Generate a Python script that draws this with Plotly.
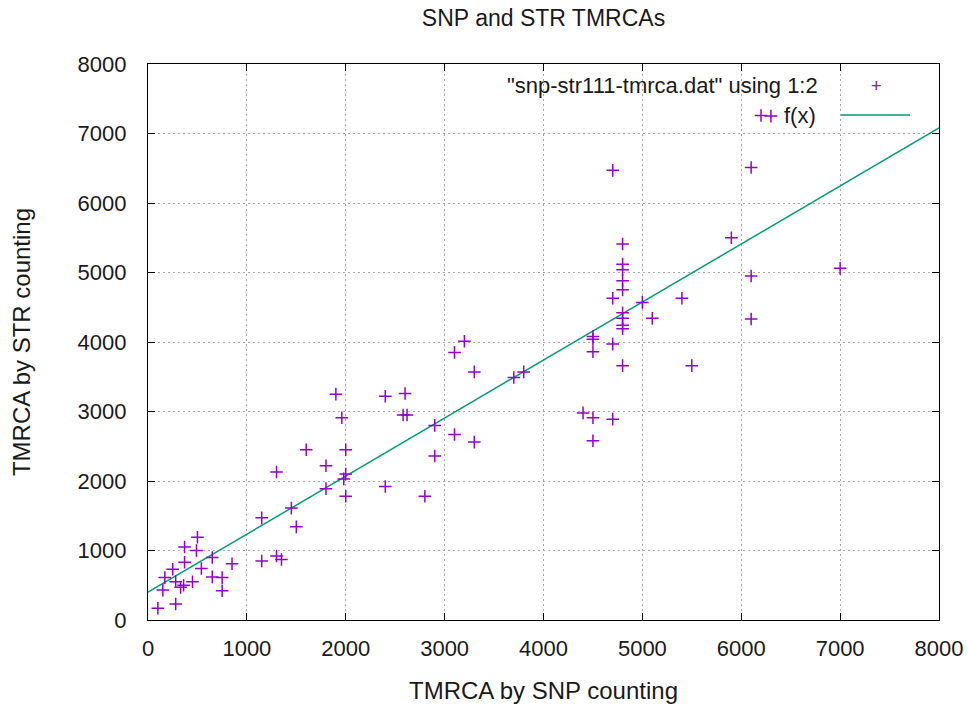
import plotly.graph_objects as go

# SNP-based TMRCA (x) and STR-based TMRCA (y)
snp_tmrca = [100, 280, 150, 170, 250, 280, 330, 360, 450, 370, 370, 500, 490, 540, 650, 650, 750, 750, 850,
             1150, 1150, 1300, 1350, 1450, 1500,
             1300, 1600, 1800, 1800, 1900, 1960, 2000, 2000, 1980, 2000,
             2400, 2400, 2600, 2580, 2620, 2800, 2900, 2900, 3100, 3300,
             3100, 3200, 3300, 3700, 3800,
             4400, 4500, 4500, 4700,
             4500, 4500, 4500, 4700, 4700, 4700,
             4800, 4800, 4800, 4800, 4800, 4800, 4800, 4800, 4800, 4800,
             5000, 5100, 5400, 5500, 5900,
             6100, 6100, 6100, 7000, 6200, 6300]
str_tmrca = [170, 230, 430, 610, 730, 550, 470, 500, 550, 830, 1050, 1190, 1000, 740, 900, 620, 610, 420, 810,
             1470, 850, 920, 870, 1610, 1340,
             2130, 2450, 2220, 1890, 3250, 2910, 2450, 2100, 2030, 1780,
             3220, 1920, 3260, 2950, 2950, 1780, 2800, 2360, 2670, 2560,
             3850, 4010, 3570, 3490, 3570,
             2980, 2910, 2580, 2890,
             4080, 4040, 3860, 3970, 4630, 6470,
             5410, 5120, 5040, 4880, 4750, 4420, 4340, 4240, 4190, 3660,
             4570, 4340, 4630, 3660, 5500,
             6510, 4950, 4330, 5060, 7260, 7250]

# fitted line f(x) = a + b*x
fit_intercept = 400
fit_slope = 0.835
fit_x = [0, 8000]
fit_y = [fit_intercept + fit_slope * v for v in fit_x]

tick_vals = [0, 1000, 2000, 3000, 4000, 5000, 6000, 7000, 8000]
tick_text = [str(v) for v in tick_vals]

PURPLE = "#9400D3"
GREEN = "#009E73"
FONT = "Liberation Sans, Arial, sans-serif"
TXT = "#1a1a1a"

fig = go.Figure()
fig.add_trace(go.Scatter(x=fit_x, y=fit_y, mode="lines",
                         line=dict(color=GREEN, width=1.5), name="f(x)"))
fig.add_trace(go.Scatter(x=snp_tmrca, y=str_tmrca, mode="markers",
                         marker=dict(symbol="cross-thin-open", size=9,
                                     line=dict(color=PURPLE, width=1.5), color=PURPLE),
                         name='"snp-str111-tmrca.dat" using 1:2'))

axis_common = dict(
    range=[0, 8000], tickvals=tick_vals, ticktext=tick_text,
    showgrid=True, gridcolor="#a8a8a8", griddash="2px,3px", gridwidth=1,
    zeroline=False, showline=True, linecolor="black", linewidth=1.2,
    mirror="allticks", ticks="inside", ticklen=7, tickcolor="black",
    tickfont=dict(family=FONT, size=22, color=TXT),
    automargin=False, ticklabeloverflow="allow",
)

# plot area spans page x 148..939, y 64..620
fig.update_layout(
    width=968, height=704, autosize=False,
    margin=dict(l=148, r=29, t=64, b=84),
    plot_bgcolor="white", paper_bgcolor="white",
    showlegend=False,
    title=dict(text="SNP and STR TMRCAs", x=0.5, xref="paper", xanchor="center",
               y=1 - 18 / 704, yref="container", yanchor="middle",
               font=dict(family=FONT, size=23, color=TXT)),
    xaxis=dict(**axis_common, ticklabelstandoff=8,
               title=dict(text="TMRCA by SNP counting", standoff=24,
                          font=dict(family=FONT, size=24, color=TXT))),
    yaxis=dict(**axis_common, ticklabelstandoff=16,
               title=dict(text="TMRCA by STR counting", standoff=40,
                          font=dict(family=FONT, size=24, color=TXT))),
)

# gnuplot-style key (text on the left, sample on the right)
fig.add_annotation(x=(820 - 148) / 791, y=(620 - 86) / 556, xref="paper", yref="paper",
                   text='"snp-str111-tmrca.dat" using 1:2', showarrow=False,
                   xanchor="right", yanchor="middle",
                   font=dict(family=FONT, size=22, color=TXT))
fig.add_annotation(x=(876 - 148) / 791, y=(620 - 86) / 556, xref="paper", yref="paper",
                   text="+", showarrow=False, xanchor="center", yanchor="middle",
                   font=dict(family=FONT, size=18, color=PURPLE))
fig.add_annotation(x=(818 - 148) / 791, y=(620 - 115) / 556, xref="paper", yref="paper",
                   text="f(x)", showarrow=False, xanchor="right", yanchor="middle",
                   font=dict(family=FONT, size=22, color=TXT))
fig.add_shape(type="line", xref="paper", yref="paper",
              x0=(841 - 148) / 791, x1=(910 - 148) / 791,
              y0=(620 - 115) / 556, y1=(620 - 115) / 556,
              line=dict(color=GREEN, width=1.5))

# remove the default 8px body margin so the figure fills the window exactly
fig.write_html("out.html", config={"displayModeBar": False},
               post_script="document.body.style.margin='0';")
